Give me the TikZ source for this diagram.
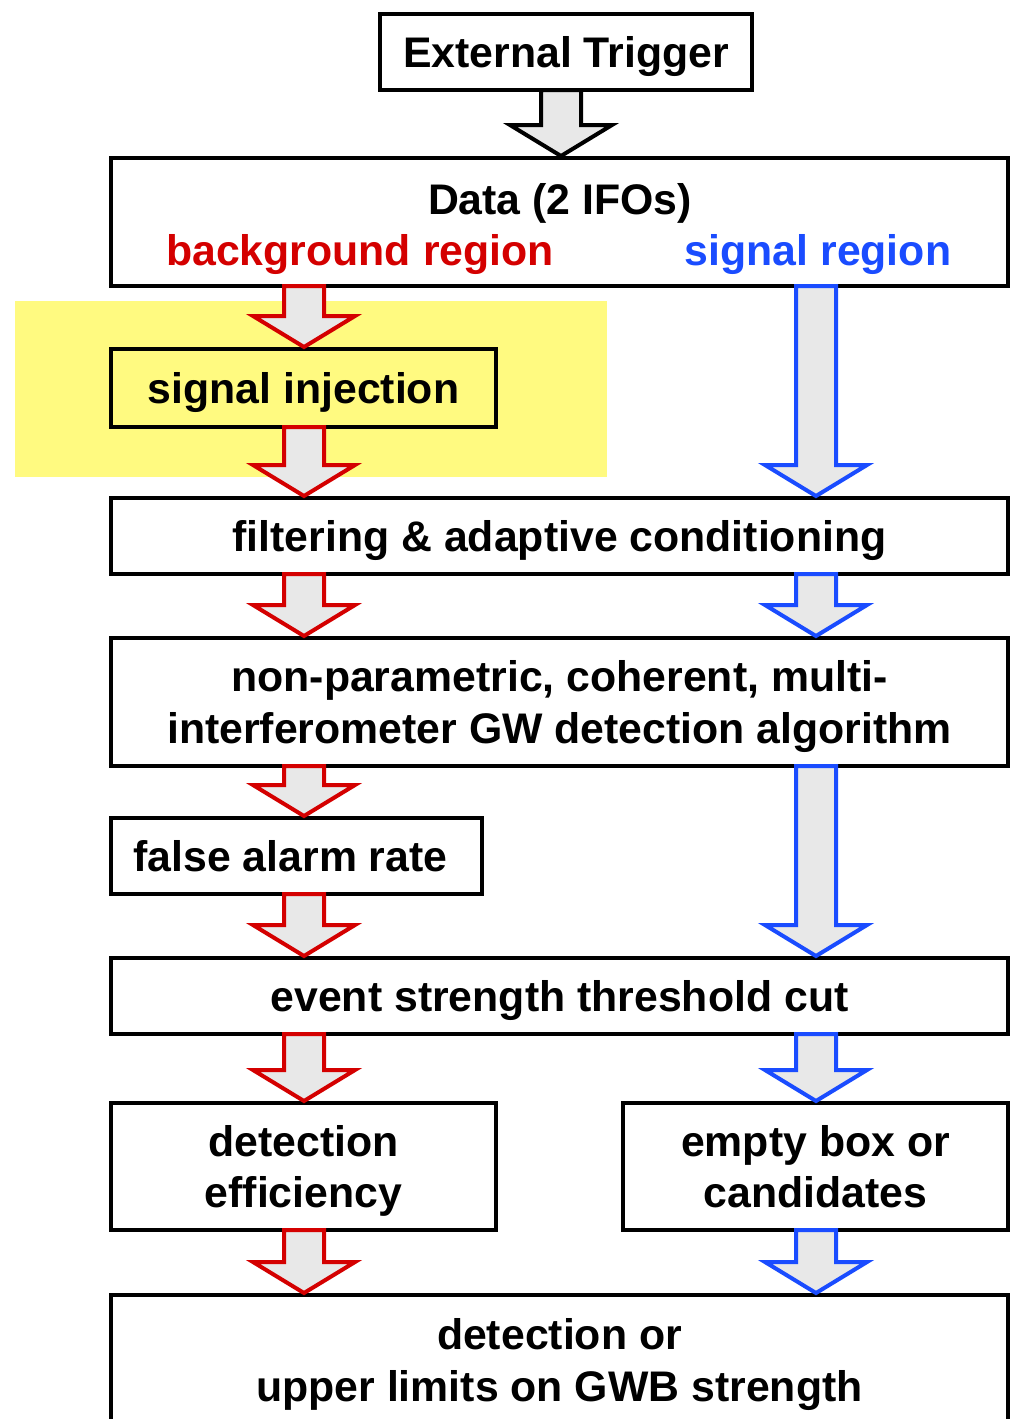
\documentclass[tikz,border=0pt]{standalone}
\usepackage{fontspec}
\setmainfont{Liberation Sans}
\usetikzlibrary{calc}
\definecolor{myred}{RGB}{212,0,0}
\definecolor{myblue}{RGB}{26,76,255}
\definecolor{arrfill}{RGB}{232,232,232}
\definecolor{hl}{RGB}{255,250,128}
\newcommand\fatarrow[4]{% #1 colour, #2 x, #3 from node, #4 to node
  \draw[fat, draw=#1] let \p1=(#3.south), \p2=(#4.north) in
  ({#2pt-20pt},\y1) -- ({#2pt-20pt},\y2+33pt) -- ({#2pt-51pt},\y2+33pt)
  -- (#2pt,\y2+2pt) -- ({#2pt+51pt},\y2+33pt) -- ({#2pt+20pt},\y2+33pt)
  -- ({#2pt+20pt},\y1) -- cycle;}
\begin{document}
\begin{tikzpicture}[x=1pt,y=-1pt,
  box/.style={draw=black, line width=4pt, fill=white, outer sep=0pt, inner sep=0pt,
    align=center, text depth=0pt, font=\fontsize{42.8}{51.5}\selectfont\bfseries},
  lbl/.style={inner sep=0pt, anchor=base, font=\fontsize{42.8}{51.5}\selectfont\bfseries},
  fat/.style={line width=4pt, fill=arrfill, line join=miter, miter limit=10}]
\useasboundingbox (0,0) rectangle (1011,1419);
\fill[white] (0,0) rectangle (1011,1419);
\fill[hl] (15,301) rectangle (607,477);

\node[box, minimum width=372pt, minimum height=76pt] (trig) at (566,52) {External Trigger};
\node[box, minimum width=897pt, minimum height=128pt] (data) at (559.5,222) {};
\node[lbl] (datat) at (560,214) {Data (2 IFOs)};
\node[lbl, text=myred] (bg) at (360,265) {background region};
\node[lbl, text=myblue] (sg) at (818,265) {signal region};
\node[box, fill=none, minimum width=385pt, minimum height=78pt] (inj) at (303.5,388) {signal injection};
\node[box, minimum width=897pt, minimum height=76pt] (filt) at (559.5,536) {filtering \& adaptive conditioning};
\node[box, minimum width=897pt, minimum height=128pt] (alg) at (559.5,702) {non-parametric, coherent, multi-\\interferometer GW detection algorithm};
\node[box, minimum width=371pt, minimum height=76pt] (far) at (296.5,856) {\hspace*{-12pt}false alarm rate};
\node[box, minimum width=897pt, minimum height=76pt] (evt) at (559.5,996) {event strength threshold cut};
\node[box, minimum width=385pt, minimum height=127pt] (eff) at (303.5,1166.5) {detection\\efficiency};
\node[box, minimum width=385pt, minimum height=127pt] (emp) at (815.5,1166.5) {empty box or\\candidates};
\node[box, minimum width=897pt, minimum height=130pt] (fin) at (559.5,1360) {detection or\\upper limits on GWB strength};

\fatarrow{black}{561}{trig}{data}
\fatarrow{myred}{304}{data}{inj}
\fatarrow{myred}{304}{inj}{filt}
\fatarrow{myblue}{816}{data}{filt}
\fatarrow{myred}{304}{filt}{alg}
\fatarrow{myblue}{816}{filt}{alg}
\fatarrow{myred}{304}{alg}{far}
\fatarrow{myred}{304}{far}{evt}
\fatarrow{myblue}{816}{alg}{evt}
\fatarrow{myred}{304}{evt}{eff}
\fatarrow{myblue}{816}{evt}{emp}
\fatarrow{myred}{304}{eff}{fin}
\fatarrow{myblue}{816}{emp}{fin}
\end{tikzpicture}
\end{document}
